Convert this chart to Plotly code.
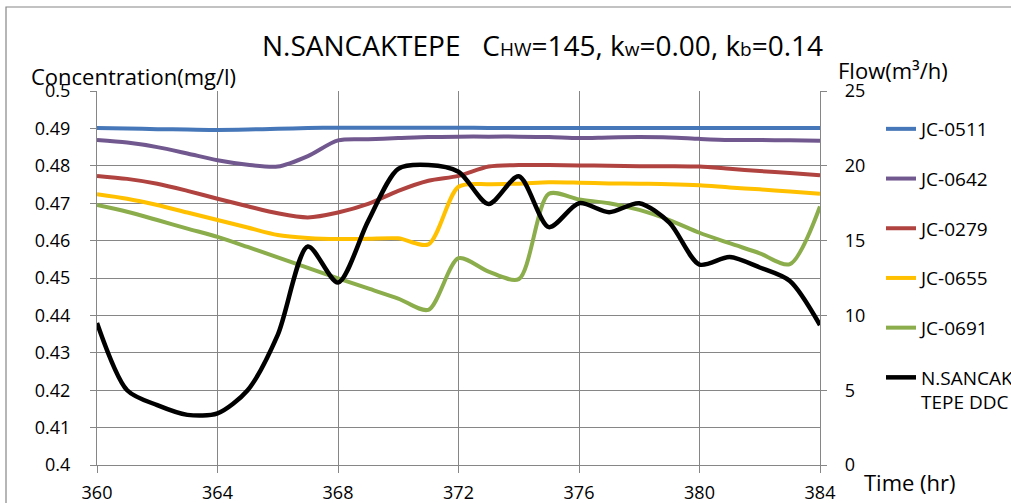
import plotly.graph_objects as go

hours = list(range(360, 385))

jc_0511 = [0.4901, 0.4900, 0.4898, 0.4897, 0.4896, 0.4897, 0.4899, 0.4901, 0.4902, 0.4902,
           0.4902, 0.4902, 0.4902, 0.4901, 0.4901, 0.4901, 0.4901, 0.4901, 0.4901, 0.4901,
           0.4901, 0.4901, 0.4901, 0.4901, 0.4901]
jc_0642 = [0.4869, 0.4862, 0.4850, 0.4833, 0.4815, 0.4803, 0.4798, 0.4826, 0.4868, 0.4871,
           0.4874, 0.4877, 0.4878, 0.4878, 0.4878, 0.4877, 0.4874, 0.4876, 0.4877, 0.4876,
           0.4872, 0.4869, 0.4869, 0.4868, 0.4867]
jc_0279 = [0.4773, 0.4765, 0.4752, 0.4733, 0.4712, 0.4692, 0.4673, 0.4662, 0.4675, 0.4698,
           0.4733, 0.4760, 0.4773, 0.4798, 0.4802, 0.4802, 0.4801, 0.4800, 0.4799, 0.4799,
           0.4798, 0.4792, 0.4786, 0.4781, 0.4775]
jc_0655 = [0.4724, 0.4712, 0.4695, 0.4675, 0.4655, 0.4635, 0.4615, 0.4607, 0.4604, 0.4605,
           0.4606, 0.4590, 0.4744, 0.4751, 0.4752, 0.4756, 0.4755, 0.4753, 0.4752, 0.4751,
           0.4748, 0.4742, 0.4737, 0.4731, 0.4725]
jc_0691 = [0.4695, 0.4677, 0.4655, 0.4632, 0.4610, 0.4583, 0.4555, 0.4527, 0.4499, 0.4472,
           0.4445, 0.4415, 0.4553, 0.4517, 0.4497, 0.4725, 0.4710, 0.4700, 0.4682, 0.4655,
           0.4621, 0.4593, 0.4566, 0.4537, 0.4691]
ddc_flow = [9.5, 5.0, 4.0, 3.35, 3.45, 5.0, 8.7, 14.6, 12.2, 16.3,
            19.8, 20.05, 19.6, 17.45, 19.3, 15.9, 17.5, 16.9, 17.5, 16.2,
            13.4, 13.9, 13.2, 12.3, 9.35]

series_names = ["JC-0511", "JC-0642", "JC-0279", "JC-0655", "JC-0691"]
series_values = [jc_0511, jc_0642, jc_0279, jc_0655, jc_0691]
series_colors = ["#4677b8", "#71588f", "#b0433f", "#ffc000", "#8bad4b"]
flow_name = "N.SANCAK<br>TEPE DDC"

x_ticks = [360, 364, 368, 372, 376, 380, 384]
conc_ticks = [0.40, 0.41, 0.42, 0.43, 0.44, 0.45, 0.46, 0.47, 0.48, 0.49, 0.50]
conc_labels = ["0.4", "0.41", "0.42", "0.43", "0.44", "0.45", "0.46", "0.47", "0.48", "0.49", "0.5"]
flow_ticks = [0, 5, 10, 15, 20, 25]

W, H = 1011, 503
ML, MR, MT, MB = 97, 191, 91, 38
PW, PH = W - ML - MR, H - MT - MB

def px_x(p):
    return (p - ML) / PW

def px_y(p):
    return (H - MB - p) / PH

FONT = "Open Sans"
GRID = "#868686"

fig = go.Figure()
for i, (name, vals, col) in enumerate(zip(series_names, series_values, series_colors)):
    fig.add_trace(go.Scatter(
        x=hours, y=vals, name=name, mode="lines",
        line=dict(color=col, width=4, shape="spline", smoothing=0.8),
        legendgroup=f"g{i}", yaxis="y"))
fig.add_trace(go.Scatter(
    x=hours, y=ddc_flow, name=flow_name, mode="lines",
    line=dict(color="#000000", width=4.5, shape="spline", smoothing=0.8),
    legendgroup="g5", yaxis="y2"))

title_html = ("N.SANCAKTEPE   C<span style='font-size:19px'>HW</span>=145, "
              "k<span style='font-size:19px'>w</span>=0.00, "
              "k<span style='font-size:19px'>b</span>=0.14")

fig.update_layout(
    width=W, height=H,
    margin=dict(l=ML, r=MR, t=MT, b=MB, autoexpand=False),
    paper_bgcolor="white", plot_bgcolor="white",
    font=dict(family=FONT, size=18, color="black"),
    title=dict(text=title_html, xref="container", yref="container",
               x=262 / W, xanchor="left", y=1 - 46 / H, yanchor="middle",
               font=dict(family=FONT, size=28, color="black")),
    xaxis=dict(range=[360, 384], tickvals=x_ticks, showgrid=True, gridcolor=GRID, gridwidth=1.2,
               showline=True, linecolor=GRID, linewidth=1.2, ticks="outside", ticklen=7,
               tickcolor=GRID, tickwidth=1.2, tickfont=dict(size=18), ticklabelstandoff=4,
               zeroline=False),
    yaxis=dict(range=[0.4, 0.5], tickvals=conc_ticks, ticktext=conc_labels, showgrid=True,
               gridcolor=GRID, gridwidth=1.2, showline=True, linecolor=GRID, linewidth=1.2,
               ticks="outside", ticklen=6, tickcolor=GRID, tickwidth=1.2,
               tickfont=dict(size=18), ticklabelstandoff=16, zeroline=False),
    yaxis2=dict(range=[0, 25], tickvals=flow_ticks, overlaying="y", side="right",
                showgrid=False, showline=True, linecolor=GRID, linewidth=1.2,
                ticks="outside", ticklen=6, tickcolor=GRID, tickwidth=1.2,
                tickfont=dict(size=18), ticklabelstandoff=14, zeroline=False),
    legend=dict(xref="container", yref="container", x=881 / W, xanchor="left",
                y=1 - 110 / H, yanchor="top", font=dict(family=FONT, size=19),
                tracegroupgap=22, valign="top", bgcolor="rgba(0,0,0,0)", borderwidth=0,
                maxheight=450),
    showlegend=True,
    shapes=[dict(type="rect", xref="paper", yref="paper",
                 x0=px_x(6), x1=px_x(1030), y0=px_y(520), y1=px_y(7),
                 line=dict(color=GRID, width=1.2), fillcolor="rgba(0,0,0,0)", layer="below")],
    annotations=[
        dict(text="Concentration(mg/l)", xref="paper", yref="paper", x=px_x(29), y=px_y(76),
             xanchor="left", yanchor="middle", showarrow=False, font=dict(size=22)),
        dict(text="Flow(m³/h)", xref="paper", yref="paper", x=px_x(836), y=px_y(70),
             xanchor="left", yanchor="middle", showarrow=False, font=dict(size=22)),
        dict(text="Time (hr)", xref="paper", yref="paper", x=px_x(862), y=px_y(482),
             xanchor="left", yanchor="middle", showarrow=False, font=dict(size=22)),
    ],
)

fig.write_html("out.html", config={"displayModeBar": False},
               post_script="document.body.style.margin='0px';")
